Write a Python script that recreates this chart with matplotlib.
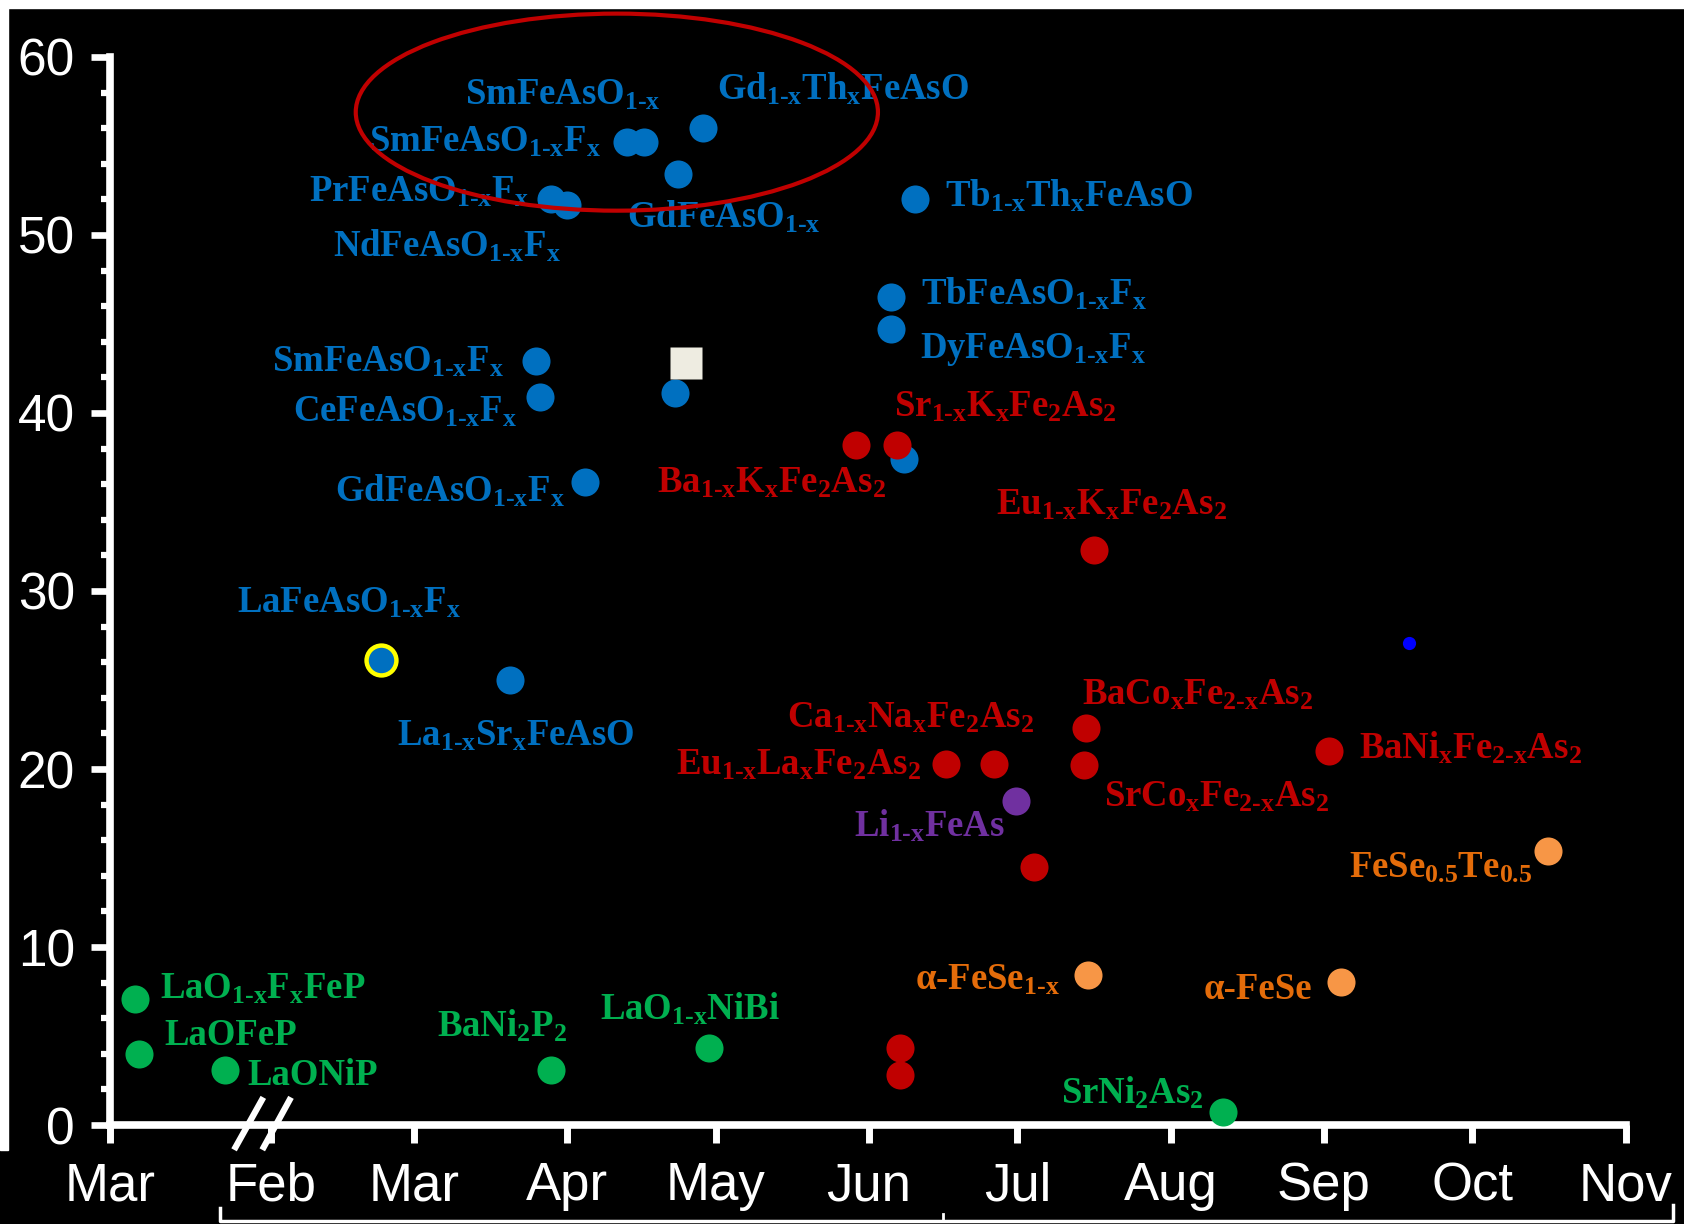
import numpy as np
import matplotlib
matplotlib.use("Agg")
import matplotlib.pyplot as plt
from matplotlib.patches import Ellipse, Rectangle
from matplotlib.ticker import FixedLocator

plt.rcParams["mathtext.fontset"] = "custom"
plt.rcParams["mathtext.rm"] = "Liberation Serif:bold"
plt.rcParams["mathtext.it"] = "Liberation Serif:bold"
plt.rcParams["mathtext.bf"] = "Liberation Serif:bold"

# x = day of year 2008 (first tick is Mar 2006, placed just before the axis break)
month_ticks = [-1.5, 31, 60, 91, 121, 152, 182, 213, 244, 274, 305]
month_labels = ["Mar", "Feb", "Mar", "Apr", "May", "Jun", "Jul", "Aug", "Sep", "Oct", "Nov"]

# 1111 (ReFeAsO) family
blue_day = [79.3, 84.6, 85.4, 94.6, 112.8, 87.7, 91.0, 103.0, 106.5, 113.3, 118.5, 161.2, 156.5, 156.5, 159.0]
blue_tc = [25.0, 42.9, 40.9, 36.1, 41.1, 52.0, 51.7, 55.2, 55.2, 53.4, 56.0, 52.0, 46.5, 44.7, 37.4]
lafeaso_day = [53.4]
lafeaso_tc = [26.1]

# 122 family
red_day = [149.4, 157.6, 197.4, 167.5, 177.2, 195.9, 195.5, 185.4, 245.0, 158.3, 158.3]
red_tc = [38.2, 38.2, 32.3, 20.3, 20.3, 22.3, 20.2, 14.5, 21.0, 4.3, 2.8]

# Ni / P based
green_day = [3.6, 4.4, 21.8, 87.7, 119.6, 223.6]
green_tc = [7.1, 4.0, 3.1, 3.1, 4.3, 0.75]

# 111 and 11 families
purple_day = [181.8]
purple_tc = [18.2]
orange_day = [196.2, 247.5, 289.3]
orange_tc = [8.4, 8.05, 15.4]

square_day = [114.9]
square_tc = [42.8]
dot_day = [261.2]
dot_tc = [27.1]

blue_labels = ["SmFeAsO$_{\\text{1-x}}$", "Gd$_{\\text{1-x}}$Th$_\\text{x}$FeAsO",
               "SmFeAsO$_{\\text{1-x}}$F$_\\text{x}$", "PrFeAsO$_{\\text{1-x}}$F$_\\text{x}$",
               "GdFeAsO$_{\\text{1-x}}$", "NdFeAsO$_{\\text{1-x}}$F$_\\text{x}$",
               "Tb$_{\\text{1-x}}$Th$_\\text{x}$FeAsO", "TbFeAsO$_{\\text{1-x}}$F$_\\text{x}$",
               "DyFeAsO$_{\\text{1-x}}$F$_\\text{x}$", "SmFeAsO$_{\\text{1-x}}$F$_\\text{x}$",
               "CeFeAsO$_{\\text{1-x}}$F$_\\text{x}$", "GdFeAsO$_{\\text{1-x}}$F$_\\text{x}$",
               "LaFeAsO$_{\\text{1-x}}$F$_\\text{x}$", "La$_{\\text{1-x}}$Sr$_\\text{x}$FeAsO"]
blue_label_pos = [(70.2, 57.3), (121.2, 57.6), (50.8, 54.7), (38.8, 51.9), (103.0, 50.4),
                  (43.7, 48.8), (167.4, 51.6), (162.5, 46.1), (162.3, 43.1), (31.3, 42.3),
                  (35.6, 39.5), (44.0, 35.0), (24.2, 28.8), (56.5, 21.3)]

red_labels = ["Sr$_{\\text{1-x}}$K$_\\text{x}$Fe$_\\text{2}$As$_\\text{2}$",
              "Ba$_{\\text{1-x}}$K$_\\text{x}$Fe$_\\text{2}$As$_\\text{2}$",
              "Eu$_{\\text{1-x}}$K$_\\text{x}$Fe$_\\text{2}$As$_\\text{2}$",
              "Ca$_{\\text{1-x}}$Na$_\\text{x}$Fe$_\\text{2}$As$_\\text{2}$",
              "Eu$_{\\text{1-x}}$La$_\\text{x}$Fe$_\\text{2}$As$_\\text{2}$",
              "BaCo$_\\text{x}$Fe$_{\\text{2-x}}$As$_\\text{2}$",
              "SrCo$_\\text{x}$Fe$_{\\text{2-x}}$As$_\\text{2}$",
              "BaNi$_\\text{x}$Fe$_{\\text{2-x}}$As$_\\text{2}$"]
red_label_pos = [(157.1, 39.8), (109.1, 35.5), (177.6, 34.3), (135.4, 22.3), (112.9, 19.7),
                 (195.0, 23.6), (199.6, 17.9), (251.1, 20.6)]

green_labels = ["LaO$_{\\text{1-x}}$F$_\\text{x}$FeP", "LaOFeP", "LaONiP",
                "BaNi$_\\text{2}$P$_\\text{2}$", "LaO$_{\\text{1-x}}$NiBi", "SrNi$_\\text{2}$As$_\\text{2}$"]
green_label_pos = [(8.6, 7.1), (9.6, 4.5), (26.2, 2.25), (64.6, 4.96), (97.5, 5.9), (190.9, 1.2)]

purple_labels = ["Li$_{\\text{1-x}}$FeAs"]
purple_label_pos = [(149.0, 16.2)]

orange_labels = ["\u03b1-FeSe$_{\\text{1-x}}$", "\u03b1-FeSe", "FeSe$_\\text{0.5}$Te$_\\text{0.5}$"]
orange_label_pos = [(161.2, 7.6), (219.7, 7.1), (249.1, 13.9)]

BLUE = "#0070C0"
RED = "#C00000"
GREEN = "#00B050"
PURPLE = "#7030A0"
ORANGE_MK = "#F79646"
ORANGE_TX = "#E46C0A"

fig = plt.figure(figsize=(16.84, 12.24), dpi=100, facecolor="black")
ax = fig.add_axes([0, 0, 1, 1], facecolor="black")
ax.set_xlim(-23.74, 316.8)
ax.set_ylim(-5.56, 63.2)

ms = 20.2
ax.plot(blue_day, blue_tc, "o", ms=ms, color=BLUE, mec="none", clip_on=False, zorder=3)
ax.plot(lafeaso_day, lafeaso_tc, "o", ms=21.5, mfc=BLUE, mec="#FFFF00", mew=3.2, clip_on=False, zorder=3)
ax.plot(red_day, red_tc, "o", ms=ms, color=RED, mec="none", clip_on=False, zorder=4)
ax.plot(green_day, green_tc, "o", ms=ms, color=GREEN, mec="none", clip_on=False, zorder=4)
ax.plot(purple_day, purple_tc, "o", ms=ms, color=PURPLE, mec="none", clip_on=False, zorder=4)
ax.plot(orange_day, orange_tc, "o", ms=ms, color=ORANGE_MK, mec="none", clip_on=False, zorder=4)
ax.plot(square_day, square_tc, "s", ms=23, color="#EEECE1", mec="none", zorder=4)
ax.plot(dot_day, dot_tc, "o", ms=9.5, color="#0000FF", mec="none", zorder=4)

groups = [(blue_labels, blue_label_pos, BLUE), (red_labels, red_label_pos, RED),
          (green_labels, green_label_pos, GREEN), (purple_labels, purple_label_pos, PURPLE),
          (orange_labels, orange_label_pos, ORANGE_TX)]
for labels, pos, c in groups:
    for s, (x, y) in zip(labels, pos):
        ax.text(x, y, s, color=c, fontsize=26.5, family="Liberation Serif", weight="bold",
                ha="left", va="baseline", zorder=5)

# the 50+ K region
ax.add_patch(Ellipse((101.0, 56.9), 105.6, 11.07, fill=False, edgecolor=RED, lw=3, zorder=6))

# axes
for side in ["top", "right"]:
    ax.spines[side].set_visible(False)
ax.spines["left"].set_position(("data", -1.5))
ax.spines["bottom"].set_position(("data", 0))
ax.spines["left"].set_bounds(0, 60)
ax.spines["bottom"].set_bounds(-1.5, 305)
for side in ["left", "bottom"]:
    ax.spines[side].set_color("white")
    ax.spines[side].set_linewidth(5.5)

ax.set_xticks(month_ticks)
ax.set_xticklabels(month_labels)
ax.set_yticks(np.arange(0, 61, 10))
ax.yaxis.set_minor_locator(FixedLocator([v for v in range(0, 61, 2) if v % 10]))
ax.tick_params(axis="x", direction="out", length=13, width=5, colors="white", labelsize=38, pad=13)
ax.tick_params(axis="y", which="major", direction="out", length=13.7, width=4.8, colors="white",
               labelsize=37, pad=11.5)
ax.tick_params(axis="y", which="minor", direction="out", length=6.5, width=4.5, colors="white")
for lbl in ax.get_xticklabels() + ax.get_yticklabels():
    lbl.set_fontfamily("Liberation Sans")

# axis break marks
ax.plot([29.2, 23.9], [1.4, -1.24], color="white", lw=4.5, clip_on=False, zorder=7)
ax.plot([34.8, 29.6], [1.4, -1.24], color="white", lw=4.5, clip_on=False, zorder=7)

# bracket under the 2008 months
W, H = 1684.0, 1224.0
fig.add_artist(plt.Line2D([220 / W, 220 / W, 1673 / W, 1673 / W],
                          [1 - 1208 / H, 1 - 1221 / H, 1 - 1221 / H, 1 - 1205 / H],
                          color="white", lw=2.5))
fig.add_artist(plt.Line2D([943 / W, 943 / W], [1 - 1221 / H, 1 - 1214 / H], color="white", lw=2))

# white margin at top and left
fig.add_artist(Rectangle((0, 1 - 8 / H), 1, 8 / H, transform=fig.transFigure, color="white"))
fig.add_artist(Rectangle((0, 1 - 1150 / H), 8 / W, 1150 / H, transform=fig.transFigure, color="white"))

fig.savefig("out.png", dpi=100, facecolor="black")
